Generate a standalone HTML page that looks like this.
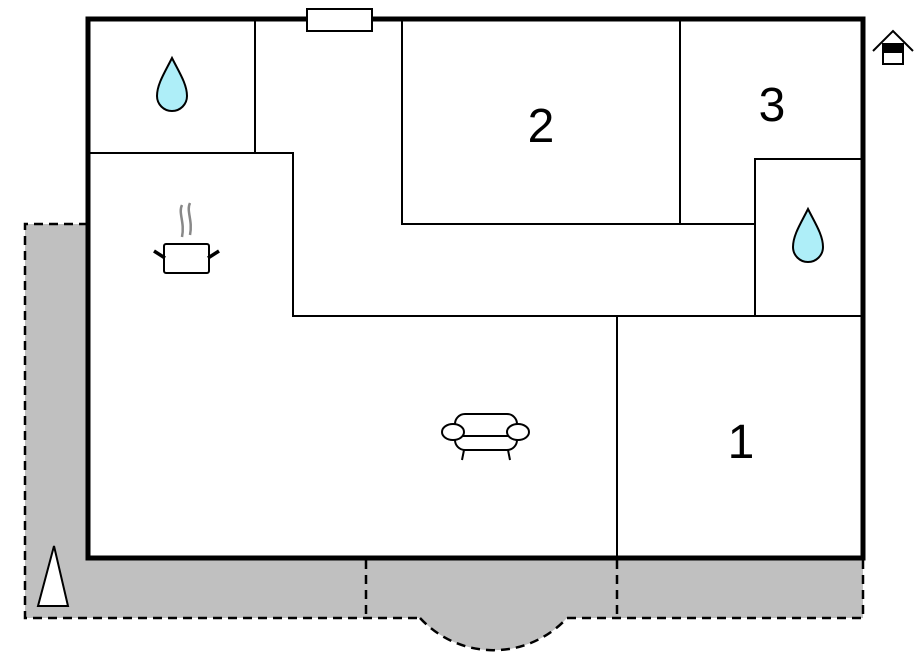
<!DOCTYPE html>
<html><head><style>body{margin:0;background:#fff}svg{display:block}</style></head>
<body>
<svg width="924" height="652" viewBox="0 0 924 652" xmlns="http://www.w3.org/2000/svg">
<path d="M25,224 H88 V558 H863 V618 H567 A100,100 0 0 1 420,618 H25 Z" fill="#c0c0c0"/>
<g fill="none" stroke="#000" stroke-width="2.5" stroke-dasharray="9,6">
<path d="M88,224 H25 V618 H420"/>
<path d="M567,618 H863 V558"/>
<path d="M420,618 A100,100 0 0 0 567,618"/>
<path d="M366,560 V618 M617,560 V618"/>
</g>
<rect x="88" y="19" width="775" height="539" fill="#fff" stroke="#000" stroke-width="5"/>
<g stroke="#000" stroke-width="2" fill="none">
<path d="M255,19 V153 M88,153 H293 V316 H863"/>
<path d="M402,19 V224 H755 M680,19 V224 M755,316 V159 H863"/>
<path d="M617,316 V558"/>
</g>
<rect x="307" y="9" width="65" height="22" fill="#fff" stroke="#000" stroke-width="2"/>
<g font-family="Liberation Sans, sans-serif" font-size="48" text-anchor="middle" fill="#000">
<text x="541" y="142">2</text>
<text x="772" y="121">3</text>
<text x="741" y="458">1</text>
</g>
<path d="M172,58 C165,72 157,84 157,96 A15,15 0 0 0 187,96 C187,84 179,72 172,58 Z" fill="#aeeef8" stroke="#000" stroke-width="2"/>
<path d="M808,209 C801,223 793,235 793,247 A15,15 0 0 0 823,247 C823,235 815,223 808,209 Z" fill="#aeeef8" stroke="#000" stroke-width="2"/>
<g fill="none">
<path d="M182,205 C178,213 185,222 182,237 M190,203 C186,211 193,220 190,235" stroke="#888" stroke-width="2.5"/>
<rect x="164" y="244" width="45" height="29" rx="2" fill="#fff" stroke="#000" stroke-width="2"/>
<path d="M154,251 L165,258 M219,251 L208,258" stroke="#000" stroke-width="3.5"/>
</g>
<g fill="#fff" stroke="#000" stroke-width="2">
<rect x="455" y="414" width="62" height="36" rx="10"/>
<line x1="464" y1="450" x2="462" y2="460"/><line x1="508" y1="450" x2="510" y2="460"/>
<line x1="458" y1="436" x2="516" y2="436"/>
<ellipse cx="453" cy="432" rx="11" ry="8"/>
<ellipse cx="518" cy="432" rx="11" ry="8"/>
</g>
<path d="M38,606 L54,546 L68,606 Z" fill="#fff" stroke="#000" stroke-width="2"/>
<g stroke="#000" stroke-width="2" fill="none">
<path d="M873,51 L893,31 L913,51"/>
<rect x="883" y="44" width="20" height="20" fill="#fff"/>
<rect x="883" y="44" width="20" height="8" fill="#000"/>
</g>
</svg>
</body></html>
